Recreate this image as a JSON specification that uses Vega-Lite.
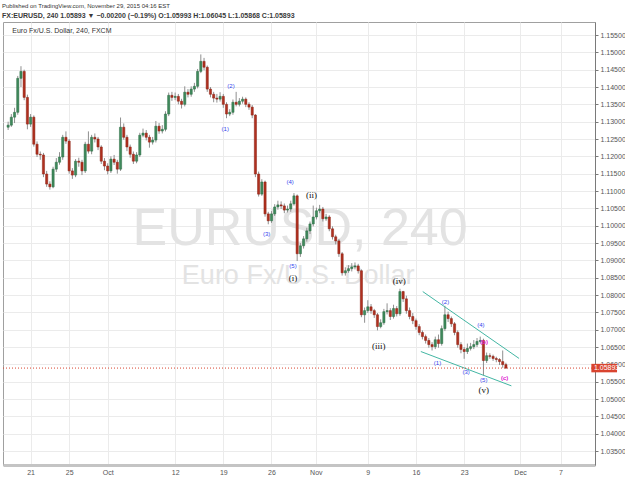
{
"$schema": "https://vega.github.io/schema/vega-lite/v6.json",
"width": 592, "height": 443,
"autosize": {"type": "none"},
"padding": {"left": 3, "top": 22, "right": 30, "bottom": 13},
"background": "#ffffff",
"title": {"text": "Published on TradingView.com, November 29, 2015 04:16 EST", "subtitle": "FX:EURUSD, 240  1.05893 ▼ −0.00200 (−0.19%)  O:1.05993 H:1.06045 L:1.05868 C:1.05893", "anchor": "start", "frame": "group", "offset": 3, "font": "Liberation Sans", "fontSize": 6, "fontWeight": "normal", "color": "#333333", "subtitleFont": "Liberation Sans", "subtitleFontSize": 7, "subtitleFontWeight": "bold", "subtitleColor": "#3a3a3a", "subtitlePadding": 3, "dx": -1},
"config": {"view": {"stroke": "#a0a0a0", "strokeWidth": 1}, "axisY": {"labelOverlap": false, "labelSeparation": 0, "labelBound": false}},
"datasets": {"candles": [
{"i":0,"o":1.1284,"h":1.1300,"l":1.1276,"c":1.1290},
{"i":1,"o":1.1290,"h":1.1322,"l":1.1285,"c":1.1313},
{"i":2,"o":1.1313,"h":1.1340,"l":1.1296,"c":1.1327},
{"i":3,"o":1.1327,"h":1.1432,"l":1.1320,"c":1.1425},
{"i":4,"o":1.1425,"h":1.1460,"l":1.1400,"c":1.1445},
{"i":5,"o":1.1445,"h":1.1450,"l":1.1362,"c":1.1370},
{"i":6,"o":1.1370,"h":1.1378,"l":1.1278,"c":1.1293},
{"i":7,"o":1.1293,"h":1.1322,"l":1.1285,"c":1.1313},
{"i":8,"o":1.1313,"h":1.1318,"l":1.1228,"c":1.1235},
{"i":9,"o":1.1235,"h":1.1243,"l":1.1198,"c":1.1206},
{"i":10,"o":1.1206,"h":1.1214,"l":1.1190,"c":1.1204},
{"i":11,"o":1.1204,"h":1.1210,"l":1.1140,"c":1.1149},
{"i":12,"o":1.1149,"h":1.1158,"l":1.1112,"c":1.1120},
{"i":13,"o":1.1120,"h":1.1128,"l":1.1104,"c":1.1112},
{"i":14,"o":1.1112,"h":1.1170,"l":1.1108,"c":1.1163},
{"i":15,"o":1.1163,"h":1.1195,"l":1.1155,"c":1.1183},
{"i":16,"o":1.1183,"h":1.1212,"l":1.1176,"c":1.1198},
{"i":17,"o":1.1198,"h":1.1262,"l":1.1190,"c":1.1255},
{"i":18,"o":1.1255,"h":1.1272,"l":1.1236,"c":1.1244},
{"i":19,"o":1.1244,"h":1.1250,"l":1.1150,"c":1.1158},
{"i":20,"o":1.1158,"h":1.1166,"l":1.1135,"c":1.1146},
{"i":21,"o":1.1146,"h":1.1192,"l":1.1140,"c":1.1186},
{"i":22,"o":1.1186,"h":1.1196,"l":1.1170,"c":1.1183},
{"i":23,"o":1.1183,"h":1.1190,"l":1.1146,"c":1.1158},
{"i":24,"o":1.1158,"h":1.1242,"l":1.1152,"c":1.1235},
{"i":25,"o":1.1235,"h":1.1272,"l":1.1208,"c":1.1215},
{"i":26,"o":1.1215,"h":1.1262,"l":1.1206,"c":1.1255},
{"i":27,"o":1.1255,"h":1.1266,"l":1.1240,"c":1.1250},
{"i":28,"o":1.1250,"h":1.1256,"l":1.1218,"c":1.1227},
{"i":29,"o":1.1227,"h":1.1232,"l":1.1178,"c":1.1186},
{"i":30,"o":1.1186,"h":1.1195,"l":1.1160,"c":1.1172},
{"i":31,"o":1.1172,"h":1.1180,"l":1.1148,"c":1.1158},
{"i":32,"o":1.1158,"h":1.1200,"l":1.1152,"c":1.1192},
{"i":33,"o":1.1192,"h":1.1204,"l":1.1175,"c":1.1183},
{"i":34,"o":1.1183,"h":1.1190,"l":1.1150,"c":1.1163},
{"i":35,"o":1.1163,"h":1.1312,"l":1.1158,"c":1.1284},
{"i":36,"o":1.1284,"h":1.1295,"l":1.1248,"c":1.1255},
{"i":37,"o":1.1255,"h":1.1262,"l":1.1215,"c":1.1227},
{"i":38,"o":1.1227,"h":1.1234,"l":1.1196,"c":1.1206},
{"i":39,"o":1.1206,"h":1.1214,"l":1.1178,"c":1.1186},
{"i":40,"o":1.1186,"h":1.1212,"l":1.1180,"c":1.1204},
{"i":41,"o":1.1204,"h":1.1268,"l":1.1198,"c":1.1261},
{"i":42,"o":1.1261,"h":1.1280,"l":1.1255,"c":1.1267},
{"i":43,"o":1.1267,"h":1.1276,"l":1.1246,"c":1.1255},
{"i":44,"o":1.1255,"h":1.1262,"l":1.1225,"c":1.1241},
{"i":45,"o":1.1241,"h":1.1256,"l":1.1234,"c":1.1247},
{"i":46,"o":1.1247,"h":1.1302,"l":1.1240,"c":1.1287},
{"i":47,"o":1.1287,"h":1.1296,"l":1.1265,"c":1.1273},
{"i":48,"o":1.1273,"h":1.1290,"l":1.1266,"c":1.1278},
{"i":49,"o":1.1278,"h":1.1330,"l":1.1272,"c":1.1322},
{"i":50,"o":1.1322,"h":1.1384,"l":1.1316,"c":1.1376},
{"i":51,"o":1.1376,"h":1.1386,"l":1.1360,"c":1.1370},
{"i":52,"o":1.1370,"h":1.1384,"l":1.1362,"c":1.1373},
{"i":53,"o":1.1373,"h":1.1380,"l":1.1350,"c":1.1359},
{"i":54,"o":1.1359,"h":1.1366,"l":1.1338,"c":1.1350},
{"i":55,"o":1.1350,"h":1.1402,"l":1.1344,"c":1.1385},
{"i":56,"o":1.1385,"h":1.1394,"l":1.1370,"c":1.1379},
{"i":57,"o":1.1379,"h":1.1402,"l":1.1372,"c":1.1394},
{"i":58,"o":1.1394,"h":1.1412,"l":1.1386,"c":1.1402},
{"i":59,"o":1.1402,"h":1.1452,"l":1.1396,"c":1.1445},
{"i":60,"o":1.1445,"h":1.1494,"l":1.1440,"c":1.1474},
{"i":61,"o":1.1474,"h":1.1484,"l":1.1448,"c":1.1457},
{"i":62,"o":1.1457,"h":1.1462,"l":1.1386,"c":1.1394},
{"i":63,"o":1.1394,"h":1.1400,"l":1.1370,"c":1.1379},
{"i":64,"o":1.1379,"h":1.1386,"l":1.1356,"c":1.1368},
{"i":65,"o":1.1368,"h":1.1380,"l":1.1355,"c":1.1365},
{"i":66,"o":1.1365,"h":1.1385,"l":1.1358,"c":1.1373},
{"i":67,"o":1.1373,"h":1.1380,"l":1.1340,"c":1.1350},
{"i":68,"o":1.1350,"h":1.1356,"l":1.1310,"c":1.1322},
{"i":69,"o":1.1322,"h":1.1336,"l":1.1316,"c":1.1327},
{"i":70,"o":1.1327,"h":1.1364,"l":1.1320,"c":1.1356},
{"i":71,"o":1.1356,"h":1.1386,"l":1.1344,"c":1.1350},
{"i":72,"o":1.1350,"h":1.1368,"l":1.1344,"c":1.1359},
{"i":73,"o":1.1359,"h":1.1372,"l":1.1352,"c":1.1365},
{"i":74,"o":1.1365,"h":1.1370,"l":1.1342,"c":1.1350},
{"i":75,"o":1.1350,"h":1.1356,"l":1.1334,"c":1.1342},
{"i":76,"o":1.1342,"h":1.1348,"l":1.1310,"c":1.1319},
{"i":77,"o":1.1319,"h":1.1322,"l":1.1140,"c":1.1149},
{"i":78,"o":1.1149,"h":1.1156,"l":1.1084,"c":1.1091},
{"i":79,"o":1.1091,"h":1.1134,"l":1.1086,"c":1.1126},
{"i":80,"o":1.1126,"h":1.1130,"l":1.1026,"c":1.1034},
{"i":81,"o":1.1034,"h":1.1040,"l":1.1004,"c":1.1014},
{"i":82,"o":1.1014,"h":1.1042,"l":1.1008,"c":1.1034},
{"i":83,"o":1.1034,"h":1.1062,"l":1.1028,"c":1.1054},
{"i":84,"o":1.1054,"h":1.1072,"l":1.1046,"c":1.1060},
{"i":85,"o":1.1060,"h":1.1070,"l":1.1048,"c":1.1057},
{"i":86,"o":1.1057,"h":1.1064,"l":1.1036,"c":1.1045},
{"i":87,"o":1.1045,"h":1.1058,"l":1.1038,"c":1.1048},
{"i":88,"o":1.1048,"h":1.1072,"l":1.1040,"c":1.1063},
{"i":89,"o":1.1063,"h":1.1094,"l":1.1058,"c":1.1086},
{"i":90,"o":1.1086,"h":1.1090,"l":1.0898,"c":1.0919},
{"i":91,"o":1.0919,"h":1.0950,"l":1.0910,"c":1.0942},
{"i":92,"o":1.0942,"h":1.0970,"l":1.0934,"c":1.0962},
{"i":93,"o":1.0962,"h":1.0994,"l":1.0954,"c":1.0985},
{"i":94,"o":1.0985,"h":1.1012,"l":1.0976,"c":1.1005},
{"i":95,"o":1.1005,"h":1.1058,"l":1.0998,"c":1.1025},
{"i":96,"o":1.1025,"h":1.1052,"l":1.1018,"c":1.1043},
{"i":97,"o":1.1043,"h":1.1060,"l":1.1036,"c":1.1048},
{"i":98,"o":1.1048,"h":1.1054,"l":1.1012,"c":1.1020},
{"i":99,"o":1.1020,"h":1.1034,"l":1.1014,"c":1.1025},
{"i":100,"o":1.1025,"h":1.1030,"l":1.0984,"c":1.0991},
{"i":101,"o":1.0991,"h":1.0998,"l":1.0960,"c":1.0968},
{"i":102,"o":1.0968,"h":1.0974,"l":1.0946,"c":1.0956},
{"i":103,"o":1.0956,"h":1.0962,"l":1.0910,"c":1.0919},
{"i":104,"o":1.0919,"h":1.0924,"l":1.0856,"c":1.0864},
{"i":105,"o":1.0864,"h":1.0880,"l":1.0856,"c":1.0870},
{"i":106,"o":1.0870,"h":1.0886,"l":1.0864,"c":1.0876},
{"i":107,"o":1.0876,"h":1.0892,"l":1.0868,"c":1.0881},
{"i":108,"o":1.0881,"h":1.0894,"l":1.0874,"c":1.0884},
{"i":109,"o":1.0884,"h":1.0890,"l":1.0862,"c":1.0870},
{"i":110,"o":1.0870,"h":1.0874,"l":1.0736,"c":1.0743},
{"i":111,"o":1.0743,"h":1.0764,"l":1.0720,"c":1.0755},
{"i":112,"o":1.0755,"h":1.0785,"l":1.0748,"c":1.0766},
{"i":113,"o":1.0766,"h":1.0774,"l":1.0746,"c":1.0755},
{"i":114,"o":1.0755,"h":1.0760,"l":1.0734,"c":1.0743},
{"i":115,"o":1.0743,"h":1.0748,"l":1.0698,"c":1.0709},
{"i":116,"o":1.0709,"h":1.0730,"l":1.0704,"c":1.0720},
{"i":117,"o":1.0720,"h":1.0760,"l":1.0714,"c":1.0752},
{"i":118,"o":1.0752,"h":1.0776,"l":1.0744,"c":1.0755},
{"i":119,"o":1.0755,"h":1.0762,"l":1.0728,"c":1.0738},
{"i":120,"o":1.0738,"h":1.0772,"l":1.0732,"c":1.0761},
{"i":121,"o":1.0761,"h":1.0768,"l":1.0738,"c":1.0746},
{"i":122,"o":1.0746,"h":1.0818,"l":1.0740,"c":1.0810},
{"i":123,"o":1.0810,"h":1.0812,"l":1.0780,"c":1.0789},
{"i":124,"o":1.0789,"h":1.0798,"l":1.0746,"c":1.0755},
{"i":125,"o":1.0755,"h":1.0764,"l":1.0730,"c":1.0738},
{"i":126,"o":1.0738,"h":1.0748,"l":1.0716,"c":1.0726},
{"i":127,"o":1.0726,"h":1.0732,"l":1.0700,"c":1.0709},
{"i":128,"o":1.0709,"h":1.0716,"l":1.0684,"c":1.0692},
{"i":129,"o":1.0692,"h":1.0698,"l":1.0672,"c":1.0680},
{"i":130,"o":1.0680,"h":1.0686,"l":1.0660,"c":1.0669},
{"i":131,"o":1.0669,"h":1.0676,"l":1.0648,"c":1.0657},
{"i":132,"o":1.0657,"h":1.0664,"l":1.0640,"c":1.0651},
{"i":133,"o":1.0651,"h":1.0680,"l":1.0644,"c":1.0671},
{"i":134,"o":1.0671,"h":1.0686,"l":1.0648,"c":1.0660},
{"i":135,"o":1.0660,"h":1.0712,"l":1.0654,"c":1.0703},
{"i":136,"o":1.0703,"h":1.0769,"l":1.0696,"c":1.0743},
{"i":137,"o":1.0743,"h":1.0752,"l":1.0722,"c":1.0732},
{"i":138,"o":1.0732,"h":1.0738,"l":1.0708,"c":1.0717},
{"i":139,"o":1.0717,"h":1.0722,"l":1.0684,"c":1.0692},
{"i":140,"o":1.0692,"h":1.0698,"l":1.0648,"c":1.0657},
{"i":141,"o":1.0657,"h":1.0664,"l":1.0632,"c":1.0643},
{"i":142,"o":1.0643,"h":1.0650,"l":1.0616,"c":1.0637},
{"i":143,"o":1.0637,"h":1.0660,"l":1.0630,"c":1.0646},
{"i":144,"o":1.0646,"h":1.0662,"l":1.0640,"c":1.0651},
{"i":145,"o":1.0651,"h":1.0670,"l":1.0644,"c":1.0657},
{"i":146,"o":1.0657,"h":1.0676,"l":1.0650,"c":1.0666},
{"i":147,"o":1.0666,"h":1.0680,"l":1.0660,"c":1.0669},
{"i":148,"o":1.0669,"h":1.0674,"l":1.0568,"c":1.0611},
{"i":149,"o":1.0611,"h":1.0634,"l":1.0604,"c":1.0625},
{"i":150,"o":1.0625,"h":1.0632,"l":1.0616,"c":1.0623},
{"i":151,"o":1.0623,"h":1.0628,"l":1.0610,"c":1.0617},
{"i":152,"o":1.0617,"h":1.0622,"l":1.0606,"c":1.0614},
{"i":153,"o":1.0614,"h":1.0618,"l":1.0598,"c":1.0608},
{"i":154,"o":1.0608,"h":1.0640,"l":1.0590,"c":1.05993},
{"i":155,"o":1.05993,"h":1.06045,"l":1.05868,"c":1.05893}
],
"channel": [
{"line":"upper","i":129.1,"p":1.0810},
{"line":"upper","i":159.1,"p":1.0617},
{"line":"lower","i":128.5,"p":1.0637},
{"line":"lower","i":156.7,"p":1.0538}
],
"waves": [
{"i":67.6,"p":1.1280,"label":"(1)","kind":"sub"},
{"i":69.4,"p":1.1404,"label":"(2)","kind":"sub"},
{"i":80.5,"p":1.0975,"label":"(3)","kind":"sub"},
{"i":87.8,"p":1.1125,"label":"(4)","kind":"sub"},
{"i":88.7,"p":1.0885,"label":"(5)","kind":"sub"},
{"i":88.7,"p":1.0850,"label":"(i)","kind":"main"},
{"i":94.5,"p":1.1089,"label":"(ii)","kind":"main"},
{"i":115.4,"p":1.0654,"label":"(iii)","kind":"main"},
{"i":121.8,"p":1.0839,"label":"(iv)","kind":"main"},
{"i":133.7,"p":1.0604,"label":"(1)","kind":"sub"},
{"i":136.2,"p":1.0780,"label":"(2)","kind":"sub"},
{"i":142.6,"p":1.0578,"label":"(3)","kind":"sub"},
{"i":147.2,"p":1.0714,"label":"(4)","kind":"sub"},
{"i":148.1,"p":1.0555,"label":"(5)","kind":"sub"},
{"i":148.1,"p":1.0526,"label":"(v)","kind":"main"},
{"i":148.2,"p":1.0665,"label":"(b)","kind":"alt"},
{"i":154.6,"p":1.0561,"label":"(c)","kind":"alt"}
]
},
"data": {"name": "candles"},
"layer": [
{"data": {"values": [{}]},
 "mark": {"type": "text", "text": "EURUSD, 240", "font": "Liberation Sans", "fontSize": 52, "color": "#e3e3e3", "align": "center", "baseline": "alphabetic"},
 "encoding": {"x": {"datum": 90.9, "type": "quantitative", "scale": {"domain": [-0.04, 181.18], "nice": false, "zero": false}},
              "y": {"datum": 1.0944, "type": "quantitative", "scale": {"domain": [1.03097, 1.15875], "nice": false, "zero": false}}}},
{"data": {"values": [{}]},
 "mark": {"type": "text", "text": "Euro Fx/U.S. Dollar", "font": "Liberation Sans", "fontSize": 27, "color": "#e3e3e3", "align": "center", "baseline": "alphabetic"},
 "encoding": {"x": {"datum": 90.3, "type": "quantitative"},
              "y": {"datum": 1.0832, "type": "quantitative"}}},
{"data": {"values": [{}]},
 "mark": {"type": "text", "text": "Euro Fx/U.S. Dollar, 240, FXCM", "font": "Liberation Sans", "fontSize": 7, "color": "#333333", "align": "left", "baseline": "alphabetic"},
 "encoding": {"x": {"datum": 1.3, "type": "quantitative"},
              "y": {"datum": 1.1555, "type": "quantitative"}}},
{"mark": {"type": "rule", "color": "#8f8f8f", "strokeWidth": 1},
 "encoding": {
   "x": {"field": "i", "type": "quantitative", "scale": {"domain": [-0.04, 181.18], "nice": false, "zero": false},
         "axis": {"title": null, "values": [7,19,31,52,67,82,95.8,112,127,142,159.4,172], "tickCount": 40,
                  "labelExpr": "['21','25','Oct','12','19','26','Nov','9','16','23','Dec','7'][indexof([7,19,31,52,67,82,95.8,112,127,142,159.4,172], datum.value)]",
                  "grid": true, "gridColor": "#ebebeb", "ticks": false, "domainColor": "#c4c4c4", "domainWidth": 3,
                  "labelFont": "Liberation Sans", "labelFontSize": 7, "labelColor": "#555555", "labelPadding": 3, "labelFlush": false, "labelOverlap": false}},
   "y": {"field": "l", "type": "quantitative", "scale": {"domain": [1.03097, 1.15875], "nice": false, "zero": false},
         "axis": {"title": null, "orient": "right", "values": [1.035,1.04,1.045,1.05,1.055,1.06,1.065,1.07,1.075,1.08,1.085,1.09,1.095,1.1,1.105,1.11,1.115,1.12,1.125,1.13,1.135,1.14,1.145,1.15,1.155], "tickCount": 40,
                  "format": ".5f", "grid": true, "gridColor": "#ebebeb", "domainColor": "#7a7a7a", "tickColor": "#7a7a7a", "tickSize": 3,
                  "labelFont": "Liberation Sans", "labelFontSize": 7, "labelColor": "#555555", "labelPadding": 2, "labelOverlap": false, "labelSeparation": 0, "labelBound": false}},
   "y2": {"field": "h"}}},
{"mark": {"type": "bar", "size": 2.2, "strokeWidth": 0.5},
 "encoding": {
   "x": {"field": "i", "type": "quantitative"},
   "y": {"field": "o", "type": "quantitative"},
   "y2": {"field": "c"},
   "color": {"condition": {"test": "datum.c >= datum.o", "value": "#3f8a5c"}, "value": "#b0301f"},
   "stroke": {"condition": {"test": "datum.c >= datum.o", "value": "#2a6a43"}, "value": "#8a2214"}}},
{"data": {"name": "channel"},
 "mark": {"type": "line", "color": "#43b6a3", "strokeWidth": 1},
 "encoding": {"x": {"field": "i", "type": "quantitative"}, "y": {"field": "p", "type": "quantitative"}, "detail": {"field": "line"}}},
{"data": {"values": [{}]},
 "mark": {"type": "rule", "color": "#d9442f", "strokeWidth": 1, "strokeDash": [1, 2]},
 "encoding": {"y": {"datum": 1.05893, "type": "quantitative"}}},
{"data": {"name": "waves"},
 "transform": [{"filter": "datum.kind == 'sub'"}],
 "mark": {"type": "text", "font": "Liberation Sans", "fontSize": 6, "color": "#3344ee", "align": "center", "baseline": "middle"},
 "encoding": {"x": {"field": "i", "type": "quantitative"}, "y": {"field": "p", "type": "quantitative"}, "text": {"field": "label"}}},
{"data": {"name": "waves"},
 "transform": [{"filter": "datum.kind == 'main'"}],
 "mark": {"type": "text", "font": "Liberation Serif", "fontSize": 9, "color": "#111111", "align": "center", "baseline": "middle"},
 "encoding": {"x": {"field": "i", "type": "quantitative"}, "y": {"field": "p", "type": "quantitative"}, "text": {"field": "label"}}},
{"data": {"name": "waves"},
 "transform": [{"filter": "datum.kind == 'alt'"}],
 "mark": {"type": "text", "font": "Liberation Sans", "fontSize": 6, "fontWeight": "bold", "color": "#e020d0", "align": "center", "baseline": "middle"},
 "encoding": {"x": {"field": "i", "type": "quantitative"}, "y": {"field": "p", "type": "quantitative"}, "text": {"field": "label"}}},
{"data": {"values": [{}]},
 "mark": {"type": "rect", "color": "#d9442f"},
 "encoding": {"x": {"datum": 181.6, "type": "quantitative"}, "x2": {"datum": 189.6},
              "y": {"datum": 1.05770, "type": "quantitative"}, "y2": {"datum": 1.06015}}},
{"data": {"values": [{}]},
 "mark": {"type": "text", "text": "1.05893", "font": "Liberation Sans", "fontSize": 7, "color": "#ffffff", "align": "left", "baseline": "middle"},
 "encoding": {"x": {"datum": 182.4, "type": "quantitative"}, "y": {"datum": 1.05893, "type": "quantitative"}}}
]
}
